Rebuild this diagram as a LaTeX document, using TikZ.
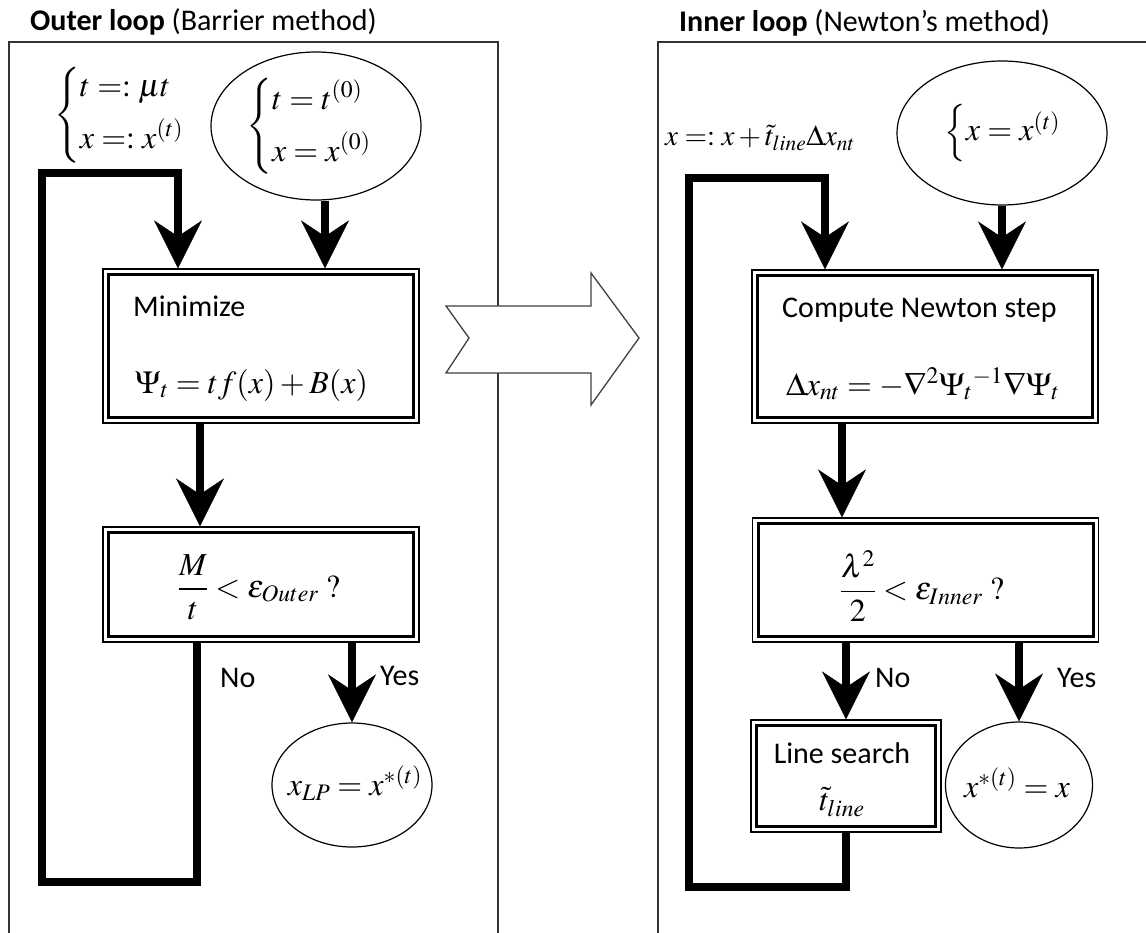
\documentclass[tikz,border=0pt]{standalone}
\usepackage{mathptmx}
\usepackage[no-math]{fontspec}
\setmainfont{Carlito}
\usetikzlibrary{arrows.meta,shapes.geometric}
\begin{document}
\begin{tikzpicture}[x=1pt,y=-1pt,
  every node/.style={font=\fontsize{30}{34}\selectfont, inner sep=0pt},
  mth/.style={font=\fontsize{32}{36}\selectfont},
  frame/.style={draw=black!80, line width=2pt},
  dbox/.style={draw, line width=1.2pt, rectangle, inner sep=0pt,
    path picture={\draw[line width=3pt]
      ([shift={(5.5pt,-5.5pt)}]path picture bounding box.north west) rectangle
      ([shift={(-5.5pt,5.5pt)}]path picture bounding box.south east);}},
  ell/.style={draw, ellipse, line width=1.2pt, inner sep=0pt},
  arr/.style={line width=8pt, line join=miter,
    -{Stealth[length=48pt,width=48pt,inset=16pt,line width=0.5pt]}},
  hollow/.style={draw=black!75, fill=white, line width=1.3pt, line join=miter},
  lbl/.style={anchor=base west}
]
\useasboundingbox (0,0) rectangle (1146,933);

% panels
\draw[frame] (9,940) -- (9,42) -- (498,42) -- (498,940);
\draw[frame] (658,940) -- (658,42) -- (1150,42);
\node[lbl] (title1) at (30,31) {\textbf{Outer loop} (Barrier method)};
\node[lbl] (title2) at (679,32) {\textbf{Inner loop} (Newton's method)};

% ---------------- outer loop ----------------
\node[mth, anchor=west] (upd1) at (54,115) {$\left\{\begin{array}{@{}l@{}} t=:\mu t\\[12pt] x=:x^{(t)}\end{array}\right.$};
\node[ell, minimum width=210pt, minimum height=148pt] (e1) at (316,126) {};
\node[mth] (init1) at (309,126) {$\left\{\begin{array}{@{}l@{}} t=t^{(0)}\\[12pt] x=x^{(0)}\end{array}\right.$};

\node[dbox, minimum width=316pt, minimum height=154pt] (b1) at (261,346) {};
\node[lbl] (t1) at (133,317) {Minimize};
\node[lbl, mth] (f1) at (135,393) {$\Psi_t = t f(x) + B(x)$};

\node[dbox, minimum width=316pt, minimum height=115pt] (b2) at (261,584.5) {};
\node[mth] (f2) at (259,587) {$\displaystyle\frac{M}{t}<\varepsilon_{Outer}\ ?$};

\node[ell, minimum width=160pt, minimum height=124pt] (e2) at (352,785) {};
\node[mth] (f3) at (355,783) {$x_{LP}=x^{*(t)}$};

\node[lbl] (no1) at (220,687) {No};
\node[lbl] (yes1) at (380,685) {Yes};

\coordinate (a0) at ([xshift=9pt]e1.south);
\coordinate (a1) at (200,0);
\coordinate (n1) at (197,0);
\coordinate (L1) at (42,882);
\coordinate (L2) at (42,173);
\coordinate (L3) at (178,0);

\draw[arr] (a0) -- (a0 |- b1.north);
\draw[arr] (a1 |- b1.south) -- (a1 |- b2.north);
\draw[arr] (e2.north |- b2.south) -- (e2.north);
\draw[arr] (n1 |- b2.south) |- (L1) -- (L2) -| (L3 |- b1.north);

% ---------------- hollow arrow ----------------
\draw[hollow] (446,306) -- (591,306) -- (591,273) -- (639,338) -- (591,405)
  -- (591,373) -- (446,373) -- (469,338) -- cycle;

% ---------------- inner loop ----------------
\node[anchor=west, font=\fontsize{29}{33}\selectfont] (upd2) at (665,138) {$x=:x+\tilde{t}_{line}\Delta x_{nt}$};
\node[ell, minimum width=210pt, minimum height=144pt] (e3) at (1002,133) {};
\node[mth] (init2) at (1003,133) {$\left\{x=x^{(t)}\right.$};

\node[dbox, minimum width=346pt, minimum height=153pt] (r1) at (925,346.5) {};
\node[lbl] (t2) at (782,318) {Compute Newton step};
\node[lbl, mth] (f4) at (786,395) {$\Delta x_{nt}=-\nabla^2\Psi_t{}^{-1}\nabla\Psi_t$};

\node[dbox, minimum width=346pt, minimum height=124pt] (r2) at (925.5,580) {};
\node[mth] (f5) at (922,586) {$\displaystyle\frac{\lambda^2}{2}<\varepsilon_{Inner}\ ?$};

\node[dbox, minimum width=190pt, minimum height=112pt] (r3) at (846,776) {};
\node[anchor=base] (t3) at (842,763) {Line search};
\node[mth] (f6) at (842,802) {$\tilde{t}_{line}$};

\node[ell, minimum width=147pt, minimum height=126pt] (e4) at (1019,785) {};
\node[mth] (f7) at (1017,783) {$x^{*(t)}=x$};

\node[lbl] (no2) at (875,687) {No};
\node[lbl] (yes2) at (1057,687) {Yes};

\coordinate (a2) at (842,0);
\coordinate (R1) at (689,887);
\coordinate (R2) at (689,178);
\coordinate (R3) at (825,0);

\draw[arr] (e3.south) -- (e3.south |- r1.north);
\draw[arr] (a2 |- r1.south) -- (a2 |- r2.north);
\draw[arr] (r3.north |- r2.south) -- (r3.north);
\draw[arr] (e4.north |- r2.south) -- (e4.north);
\draw[arr] (r3.south) |- (R1) -- (R2) -| (R3 |- r1.north);
\end{tikzpicture}
\end{document}
